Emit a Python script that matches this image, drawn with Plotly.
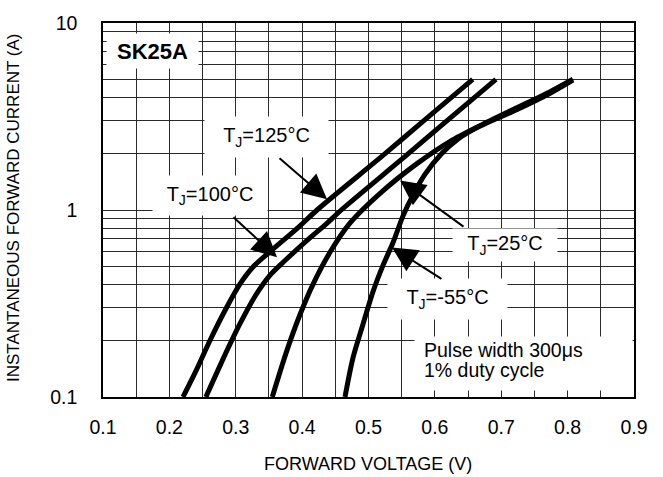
import numpy as np
import plotly.graph_objects as go

# ---------------- data ----------------
v_125 = [0.2205, 0.241, 0.261, 0.286, 0.306, 0.327, 0.352, 0.393, 0.4225, 0.525, 0.583, 0.657]
i_125 = [0.1, 0.14, 0.2, 0.3, 0.4, 0.5, 0.6, 0.8, 1.0, 2.0, 3.0, 5.0]

v_100 = [0.255, 0.281, 0.306, 0.33, 0.352, 0.375, 0.41, 0.436, 0.459, 0.56, 0.618, 0.692]
i_100 = [0.1, 0.16, 0.245, 0.35, 0.45, 0.54, 0.7, 0.84, 1.0, 2.0, 3.0, 5.0]

v_25 = [0.355, 0.377, 0.397, 0.416, 0.442, 0.472, 0.52, 0.573, 0.623, 0.672, 0.724, 0.773, 0.808]
i_25 = [0.1, 0.177, 0.277, 0.398, 0.594, 0.85, 1.25, 1.77, 2.33, 2.87, 3.53, 4.28, 5.0]

v_m55 = [0.4646, 0.4766, 0.4917, 0.5068, 0.522, 0.537, 0.552, 0.567, 0.585, 0.61, 0.635, 0.66, 0.724, 0.773, 0.808]
i_m55 = [0.1, 0.162, 0.245, 0.366, 0.507, 0.67, 0.93, 1.2, 1.55, 2.0, 2.4, 2.72, 3.45, 4.2, 4.95]

x_ticks = [0.1, 0.2, 0.3, 0.4, 0.5, 0.6, 0.7, 0.8, 0.9]
x_tick_text = ["0.1", "0.2", "0.3", "0.4", "0.5", "0.6", "0.7", "0.8", "0.9"]
y_ticks = [0.1, 1, 10]
y_tick_text = ["0.1", "1", "10"]
y_minor = [0.2, 0.3, 0.4, 0.5, 0.6, 0.7, 0.8, 0.9, 2, 3, 4, 5, 6, 7, 8, 9]

# arrows: (tip V, tip I, tail V, tail I)
arrows = [
    (0.4375, 1.14, 0.3637, 1.92),   # 125 C
    (0.3621, 0.559, 0.2943, 0.93),  # 100 C
    (0.5475, 1.438, 0.6454, 0.804), # 25 C
    (0.5354, 0.631, 0.6122, 0.423), # -55 C
]

FONT = "Liberation Sans, Arial, Helvetica, sans-serif"
GRID = "#2a2a2a"

fig = go.Figure()
for vv, ii in [(v_125, i_125), (v_100, i_100), (v_25, i_25), (v_m55, i_m55)]:
    fig.add_trace(go.Scatter(x=vv, y=ii, mode="lines",
                             line=dict(color="black", width=5, shape="spline", smoothing=0.8),
                             showlegend=False, hoverinfo="skip"))

W, H = 663, 477
# plot area in pixels: x 103..634, y 17..397
L, R, T, B = 103, 634, 17, 397
def px(x):
    return (x - L) / (R - L)
def py(y):
    return (B - y) / (B - T)

ann = []
def box(cx, cy, w, h, text, size=20, bold=False):
    ann.append(dict(xref="paper", yref="paper", x=px(cx), y=py(cy), xanchor="center", yanchor="middle",
                    width=w, height=h, bgcolor="white", borderpad=0, showarrow=False,
                    text=("<b>%s</b>" % text) if bold else text,
                    font=dict(family=FONT, size=size, color="black")))

box(152.5, 45, 91, 34, "SK25A", size=22, bold=True)
box(266.5, 133, 123, 40, "T<sub>J</sub>=125°C")
box(210, 192.5, 114, 39, "T<sub>J</sub>=100°C")
box(505, 243, 104, 32, "T<sub>J</sub>=25°C")
box(447.5, 297, 119, 40, "T<sub>J</sub>=-55°C")
box(523.5, 362.5, 217, 53, " ")
for txt, cy in [("Pulse width 300μs", 349.5), ("1% duty cycle", 369.5)]:
    ann.append(dict(xref="paper", yref="paper", x=px(422), y=py(cy), xanchor="left", yanchor="middle",
                    showarrow=False, text=txt, font=dict(family=FONT, size=19.5, color="black")))

for tv, ti, av, ai in arrows:
    ann.append(dict(x=tv, y=np.log10(ti), xref="x", yref="y", ax=av, ay=np.log10(ai), axref="x", ayref="y",
                    text="", showarrow=True, arrowhead=2, arrowsize=2.5, arrowwidth=2,
                    arrowcolor="black", standoff=0))

# axis titles
ann.append(dict(xref="paper", yref="paper", x=px(368), y=py(465), xanchor="center", yanchor="middle",
                showarrow=False, text="FORWARD VOLTAGE (V)", font=dict(family=FONT, size=18, color="black")))
ann.append(dict(xref="paper", yref="paper", x=px(13), y=py(205), xanchor="center", yanchor="middle",
                textangle=-90, showarrow=False, text="INSTANTANEOUS FORWARD CURRENT (A)",
                font=dict(family=FONT, size=17, color="black")))

fig.update_layout(
    width=W, height=H,
    margin=dict(l=L, r=W - R, t=T, b=H - B),
    paper_bgcolor="white", plot_bgcolor="white",
    annotations=ann,
    xaxis=dict(range=[0.1, 0.9], tickvals=x_ticks, ticktext=x_tick_text,
               showgrid=True, gridcolor=GRID, gridwidth=1, zeroline=False,
               minor=dict(dtick=0.05, showgrid=True, gridcolor=GRID, gridwidth=1, ticks=""),
               showline=True, linecolor="black", linewidth=1.5, mirror=True, ticks="",
               ticklabelstandoff=12,
               tickfont=dict(family=FONT, size=19.5, color="black")),
    yaxis=dict(type="log", range=[-1, 1], tickvals=y_ticks, ticktext=y_tick_text,
               showgrid=True, gridcolor=GRID, gridwidth=1, zeroline=False,
               minor=dict(tickvals=y_minor, showgrid=True, gridcolor=GRID, gridwidth=1, ticks=""),
               showline=True, linecolor="black", linewidth=1.5, mirror=True, ticks="",
               ticklabelstandoff=20,
               tickfont=dict(family=FONT, size=19.5, color="black")),
)

fig.write_html("out.html", config={"displayModeBar": False},
               post_script="document.body.style.margin='0px';")
